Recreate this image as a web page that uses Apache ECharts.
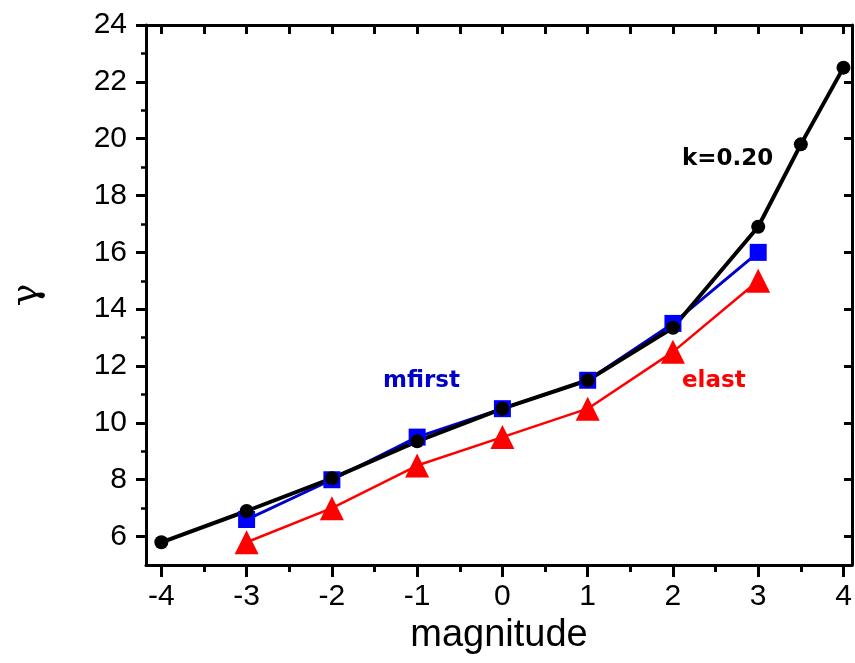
<!DOCTYPE html>
<html>
<head>
<meta charset="utf-8">
<script src="https://cdn.jsdelivr.net/npm/echarts@6/dist/echarts.min.js"></script>
<style>
  html, body { margin: 0; padding: 0; background: #fff; }
  #chart { width: 855px; height: 663px; }
</style>
</head>
<body>
<div id="chart"></div>
<script>
// k=0.20 curve (black)
var kMag = [-4, -3, -2, -1, 0, 1, 2, 3, 3.5, 4]
var kGamma = [5.8, 6.9, 8.05, 9.35, 10.5, 11.5, 13.35, 16.9, 19.8, 22.5]
// mfirst (blue) and elast (red)
var mag = [-3, -2, -1, 0, 1, 2, 3]
var mfirst = [6.6, 8.0, 9.5, 10.5, 11.5, 13.5, 16.0]
var elast = [5.8, 7.0, 8.5, 9.5, 10.5, 12.5, 15.0]
// ticks
var xMajor = [-4, -3, -2, -1, 0, 1, 2, 3, 4]
var xMinor = [-3.5, -2.5, -1.5, -0.5, 0.5, 1.5, 2.5, 3.5]
var yMajor = [6, 8, 10, 12, 14, 16, 18, 20, 22, 24]
var yMinor = [7, 9, 11, 13, 15, 17, 19, 21, 23]

function pairs(xs, ys) {
  return xs.map(function (x, i) { return [x, ys[i]] })
}

var chart = echarts.init(document.getElementById('chart'))
var xMin = -4.18, xMax = 4.1, yMin = 5, yMax = 24
var lineCol = '#000'
var font = 'Liberation Sans'

function hiddenAxis(extra) {
  return Object.assign({
    type: 'value',
    axisLine: { show: false, onZero: false },
    splitLine: { show: false },
    axisLabel: { show: false },
    axisTick: { show: false }
  }, extra)
}

chart.setOption({
  animation: false,
  backgroundColor: '#fff',
  grid: { left: 143, right: 3, top: 25, bottom: 98 },
  xAxis: [
    {
      type: 'value', min: xMin, max: xMax, position: 'bottom',
      name: 'magnitude', nameLocation: 'middle', nameGap: 48,
      nameTextStyle: { fontFamily: font, fontSize: 38, color: '#000' },
      axisLine: { onZero: false, lineStyle: { color: lineCol, width: 3 } },
      axisTick: { customValues: xMajor, length: 12, lineStyle: { width: 3, color: lineCol } },
      axisLabel: { customValues: xMajor, margin: 17, fontFamily: font, fontSize: 30, color: '#000' },
      splitLine: { show: false }
    },
    hiddenAxis({ min: xMin, max: xMax, position: 'bottom',
      axisTick: { show: true, customValues: xMinor, length: 7, lineStyle: { width: 3, color: lineCol } } }),
    hiddenAxis({ min: xMin, max: xMax, position: 'top',
      axisLine: { show: true, onZero: false, lineStyle: { color: lineCol, width: 3 } },
      axisTick: { show: true, inside: true, customValues: xMajor.concat(xMinor), length: 9, lineStyle: { width: 3, color: lineCol } } })
  ],
  yAxis: [
    {
      type: 'value', min: yMin, max: yMax, position: 'left',
      name: 'γ', nameLocation: 'middle', nameGap: 100, nameRotate: 90,
      nameTextStyle: { fontFamily: 'DejaVu Serif', fontSize: 38, color: '#000' },
      axisLine: { onZero: false, lineStyle: { color: lineCol, width: 3 } },
      axisTick: { customValues: yMajor, length: 10, lineStyle: { width: 3, color: lineCol } },
      axisLabel: { customValues: yMajor, margin: 19, fontFamily: font, fontSize: 30, color: '#000' },
      splitLine: { show: false }
    },
    hiddenAxis({ min: yMin, max: yMax, position: 'left',
      axisTick: { show: true, customValues: yMinor, length: 5, lineStyle: { width: 2.5, color: lineCol } } }),
    hiddenAxis({ min: yMin, max: yMax, position: 'right',
      axisLine: { show: true, onZero: false, lineStyle: { color: lineCol, width: 3 } },
      axisTick: { show: true, inside: true, customValues: yMajor, length: 8, lineStyle: { width: 3, color: lineCol } } })
  ],
  series: [
    {
      name: 'elast', type: 'line', data: pairs(mag, elast),
      symbol: 'triangle', symbolSize: 24,
      itemStyle: { color: '#ff0000' },
      lineStyle: { color: '#ff0000', width: 2.5 }
    },
    {
      name: 'mfirst', type: 'line', data: pairs(mag, mfirst),
      symbol: 'rect', symbolSize: 17,
      itemStyle: { color: '#0000ff' },
      lineStyle: { color: '#0000cc', width: 3 }
    },
    {
      name: 'k=0.20', type: 'line', data: pairs(kMag, kGamma),
      symbol: 'circle', symbolSize: 14,
      itemStyle: { color: '#000' },
      lineStyle: { color: '#000', width: 4 }
    }
  ],
  graphic: [
    { type: 'text', left: 682, top: 148, style: { text: 'k=0.20', font: 'bold 23px "DejaVu Sans"', fill: '#000' } },
    { type: 'text', left: 383, top: 370, style: { text: 'mfirst', font: 'bold 23px "DejaVu Sans"', fill: '#0000cc' } },
    { type: 'text', left: 682, top: 370, style: { text: 'elast', font: 'bold 23px "DejaVu Sans"', fill: '#ff0000' } }
  ]
})
</script>
</body>
</html>
